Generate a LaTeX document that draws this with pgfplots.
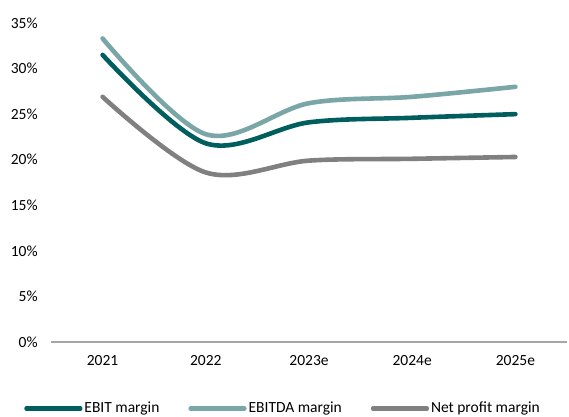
\documentclass[border=0pt]{standalone}
\usepackage{fontspec}
\setmainfont{Carlito}
\usepackage{pgfplots}
\pgfplotsset{compat=1.18}
\definecolor{ebit}{RGB}{0,94,94}
\definecolor{ebitda}{RGB}{122,166,168}
\definecolor{netc}{RGB}{128,128,128}
\definecolor{axisc}{RGB}{166,166,166}
\begin{document}
\fontsize{15.5bp}{18bp}\selectfont
\begin{tikzpicture}
\useasboundingbox (0,0) rectangle (569bp,417bp);
\begin{axis}[
  at={(51bp,75bp)}, anchor=south west,
  scale only axis, width=516bp, height=319bp,
  xmin=-0.5, xmax=4.5, ymin=0, ymax=35,
  axis x line*=bottom, axis y line*=left,
  y axis line style={draw=none},
  x axis line style={draw=axisc, line width=1.2bp, -},
  tick style={draw=none},
  xtick={0,1,2,3,4},
  xticklabels={2021,2022,2023e,2024e,2025e},
  ytick={0,5,...,35},
  yticklabel={\pgfmathprintnumber{\tick}\%},
  /pgf/number format/assume math mode=true,
  yticklabel style={xshift=-8bp},
  xticklabel style={yshift=-8bp},
  clip=false,
  legend columns=3,
  legend style={at={(0.4496,-0.2085)}, anchor=center, draw=none, fill=none,
    /tikz/every even column/.append style={column sep=27bp},
    /tikz/every odd column/.append style={inner xsep=2bp},
    font=\fontsize{15.5bp}{18bp}\selectfont},
  legend image code/.code={\draw[#1, line cap=round, line width=4.2bp] (0bp,0bp) -- (54bp,0bp);},
  every axis plot/.append style={line width=4.6bp, smooth, tension=0.55, line cap=round, no markers},
]
\addplot[color=ebit] coordinates {(0,31.5) (1,21.8) (2,24.1) (3,24.6) (4,25.0)};
\addlegendentry{EBIT margin}
\addplot[color=ebitda] coordinates {(0,33.3) (1,22.8) (2,26.2) (3,26.9) (4,28.0)};
\addlegendentry{EBITDA margin}
\addplot[color=netc] coordinates {(0,26.9) (1,18.6) (2,19.9) (3,20.1) (4,20.3)};
\addlegendentry{Net profit margin}
\end{axis}
\end{tikzpicture}
\end{document}
